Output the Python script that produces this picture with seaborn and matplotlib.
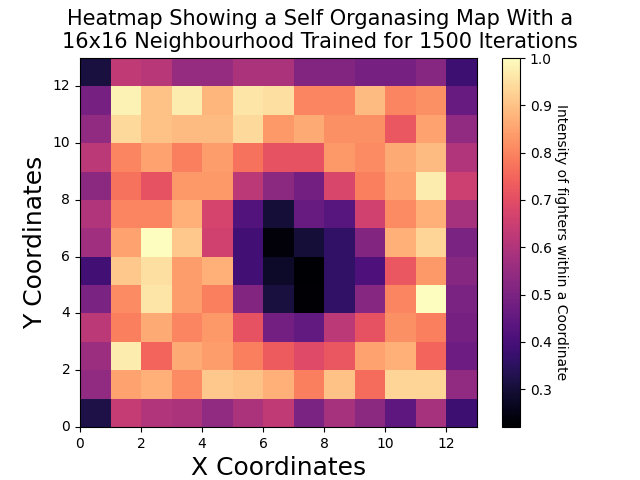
import numpy as np
import pandas as pd
import matplotlib
matplotlib.use('Agg')
import matplotlib.pyplot as plt
import seaborn as sns

# intensity per row (bottom row y=0 first)
row_00 = [.32, .64, .60, .59, .54, .59, .63, .50, .58, .53, .44, .58, .38]
row_01 = [.54, .85, .87, .81, .91, .90, .87, .79, .90, .76, .93, .93, .54]
row_02 = [.56, .97, .75, .86, .84, .79, .73, .69, .72, .85, .87, .75, .47]
row_03 = [.62, .79, .86, .80, .83, .71, .48, .45, .62, .71, .82, .79, .49]
row_04 = [.50, .81, .96, .84, .79, .51, .31, .225, .36, .52, .80, 1.0, .50]
row_05 = [.39, .91, .95, .84, .87, .39, .28, .22, .36, .41, .72, .83, .52]
row_06 = [.57, .85, 1.0, .91, .66, .39, .235, .30, .36, .51, .87, .93, .50]
row_07 = [.60, .80, .80, .87, .67, .42, .30, .46, .43, .66, .81, .87, .58]
row_08 = [.53, .77, .71, .83, .83, .62, .53, .48, .68, .79, .85, .97, .65]
row_09 = [.62, .80, .85, .79, .84, .77, .71, .71, .83, .81, .86, .89, .60]
row_10 = [.54, .94, .90, .89, .89, .94, .83, .86, .82, .82, .72, .85, .54]
row_11 = [.49, .98, .90, .97, .88, .96, .95, .80, .80, .89, .80, .82, .46]
row_12 = [.31, .63, .61, .55, .55, .59, .59, .51, .51, .49, .49, .52, .38]

rows = [row_00, row_01, row_02, row_03, row_04, row_05, row_06,
        row_07, row_08, row_09, row_10, row_11, row_12]
axis_ticks = [0, 2, 4, 6, 8, 10, 12]
cbar_ticks = [0.3, 0.4, 0.5, 0.6, 0.7, 0.8, 0.9, 1.0]

df = pd.DataFrame(np.array(rows))

fig = plt.figure(figsize=(6.4, 4.8), dpi=100)
ax = fig.add_axes([80 / 640, 1 - 427 / 480, 397 / 640, 369 / 480])
cax = fig.add_axes([502 / 640, 1 - 427 / 480, 18 / 640, 369 / 480])

sns.heatmap(df, ax=ax, cbar_ax=cax, cmap='magma', vmin=0.22, vmax=1.0,
            cbar_kws={'ticks': cbar_ticks})
ax.invert_yaxis()

ax.set_xticks(axis_ticks)
ax.set_xticklabels(axis_ticks, rotation=0)
ax.set_yticks(axis_ticks)
ax.set_yticklabels(axis_ticks, rotation=0)
for side in ax.spines.values():
    side.set_visible(True)
    side.set_linewidth(0.8)

# title sits in the middle of the figure, not over the axes
ax.set_title('Heatmap Showing a Self Organasing Map With a\n'
             '16x16 Neighbourhood Trained for 1500 Iterations',
             fontsize=15, x=0.6045, pad=7)
ax.set_xlabel('X Coordinates', fontsize=18)
ax.set_ylabel('Y Coordinates', fontsize=18)

cbar = ax.collections[0].colorbar
cbar.outline.set_visible(True)
cbar.outline.set_linewidth(0.8)
cbar.set_label('Intensity of fighters within a Coordinate', rotation=270, labelpad=12)

fig.savefig('out.png', dpi=100)
